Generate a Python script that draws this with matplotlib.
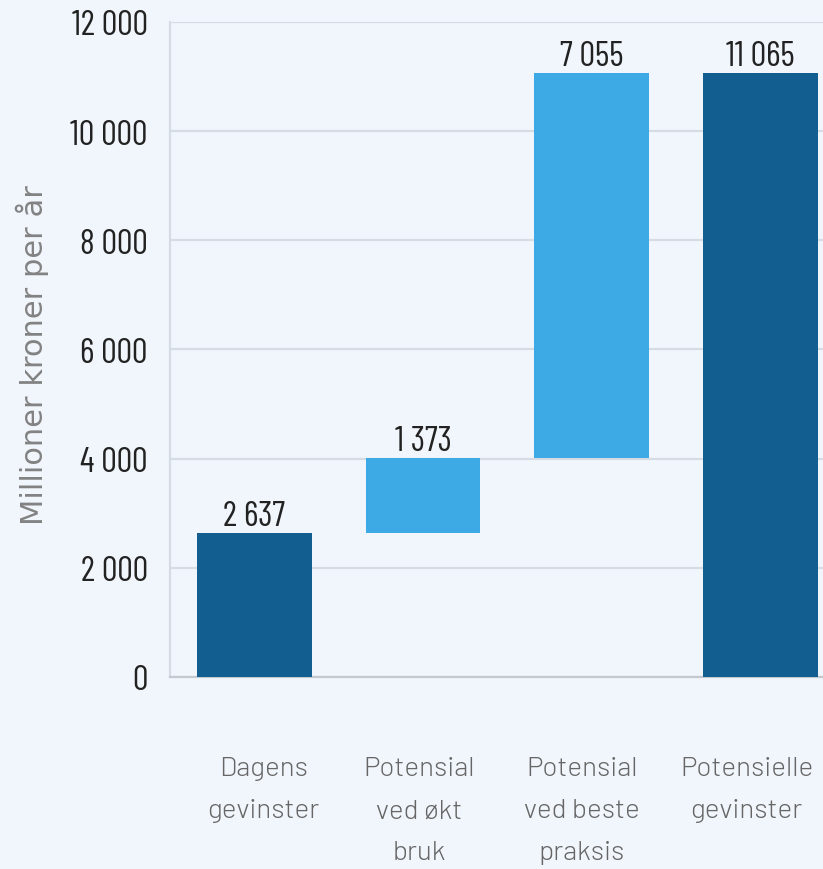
import matplotlib.pyplot as plt
from matplotlib.transforms import ScaledTranslation

# Gevinster, millioner kroner per år
kategorier = ["Dagens\ngevinster", "Potensial\nved økt\nbruk", "Potensial\nved beste\npraksis", "Potensielle\ngevinster"]
verdier = [2637, 1373, 7055, 11065]
er_total = [True, False, False, True]
y_ticks = [0, 2000, 4000, 6000, 8000, 10000, 12000]

mork = "#135e91"
lys = "#3daae6"
bakgrunn = "#f1f6fc"
smal = ["Barlow Condensed", "DejaVu Sans"]


def tusen(v):
    return f"{v:,}".replace(",", " ")


fig = plt.figure(figsize=(8.23, 8.70), dpi=100, facecolor=bakgrunn)
ax = fig.add_axes([0.2066, 0.2207, 0.7934, 0.7529], facecolor=bakgrunn)

# fossefall: totaler fra null, endringer oppå forrige nivå
niva = 0
for i, (v, tot) in enumerate(zip(verdier, er_total)):
    bunn = 0 if tot else niva
    ax.bar(i, v, bottom=bunn, width=0.68, color=mork if tot else lys, zorder=3)
    ax.annotate(tusen(v), (i, bunn + v), xytext=(0, 1), textcoords="offset points",
                ha="center", va="bottom", fontsize=25, family=smal, color="#222222", zorder=4)
    niva = v if tot else niva + v

ax.set_xlim(-0.5, 3.37)
ax.set_ylim(0, 12000)
ax.set_yticks(y_ticks)
ax.set_yticklabels([tusen(t) for t in y_ticks], family=smal, fontsize=25, color="#222222")
ax.set_xticks(range(len(kategorier)))
ax.set_xticklabels(kategorier, family=["Barlow", "DejaVu Sans"], fontsize=20, fontweight=300,
                   color="#666666", linespacing=1.95)
ax.tick_params(axis="x", length=0, pad=57)
ax.tick_params(axis="y", length=0, pad=16)

# kategoritekstene står litt tettere enn søylene
for lbl, dx in zip(ax.get_xticklabels(), [9, -4, -10, -14]):
    lbl.set_transform(lbl.get_transform() + ScaledTranslation(dx / 100, 0, fig.dpi_scale_trans))

ax.grid(axis="y", color="#d6dce4", linewidth=1.6, zorder=0)
for s in ["top", "right"]:
    ax.spines[s].set_visible(False)
ax.spines["left"].set_color("#d6dce4")
ax.spines["left"].set_linewidth(1.6)
ax.spines["bottom"].set_color("#c4c9cf")
ax.spines["bottom"].set_linewidth(1.6)

fig.text(0.039, 0.592, "Millioner kroner per år", rotation=90, ha="center", va="center",
         fontsize=22, family="DejaVu Sans", color="#828282")

fig.savefig("out.png", facecolor=bakgrunn)
